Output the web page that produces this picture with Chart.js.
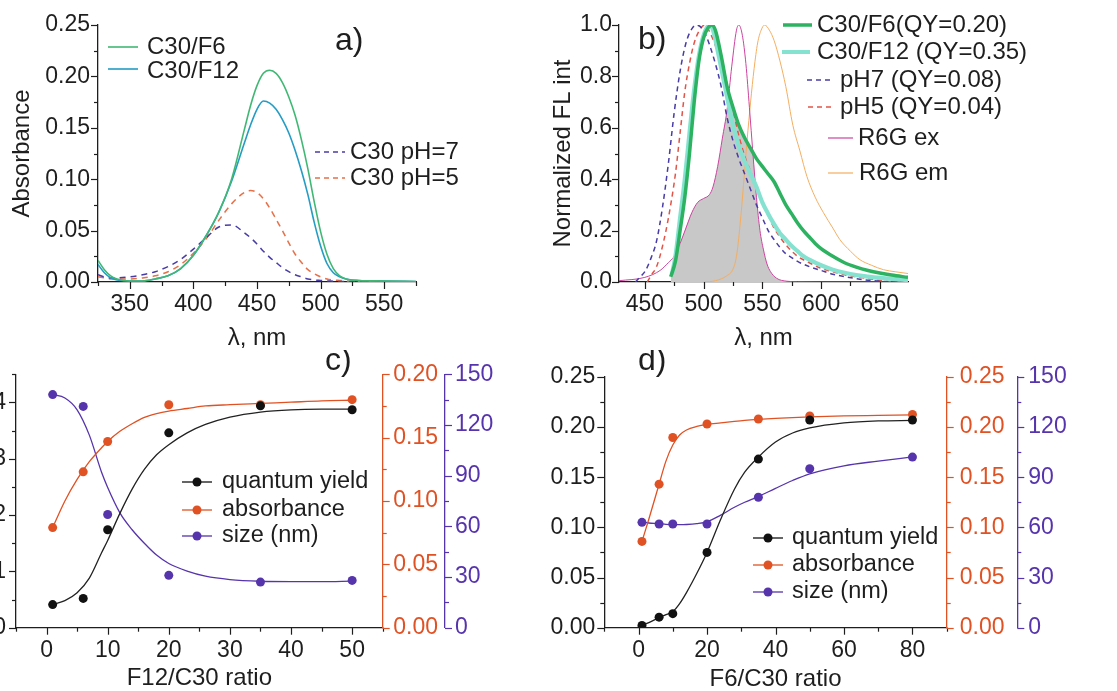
<!DOCTYPE html>
<html>
<head>
<meta charset="utf-8">
<script src="https://cdn.jsdelivr.net/npm/chart.js@4.4.1/dist/chart.umd.min.js"></script>
<style>
  html, body { margin: 0; padding: 0; background: #fff; }
  #wrap { position: relative; width: 1117px; height: 691px; overflow: hidden; }
  canvas { position: absolute; }
</style>
</head>
<body>
<div id="wrap">
  <canvas id="pa" width="540" height="350" style="left:0px;top:0px"></canvas>
  <canvas id="pb" width="577" height="350" style="left:540px;top:0px"></canvas>
  <canvas id="pc" width="540" height="341" style="left:0px;top:350px"></canvas>
  <canvas id="pd" width="577" height="341" style="left:540px;top:350px"></canvas>
</div>
<script>
// a) absorbance spectra
var waveA  = [325, 330, 335, 340, 350, 360, 370, 380, 390, 400, 410, 420, 430, 440, 445, 450, 455, 460, 465, 470, 475, 480, 485, 490, 495, 500, 505, 510, 515, 520, 530, 550, 575];
var absF6  = [0.021, 0.012, 0.006, 0.003, 0.001, 0.001, 0.003, 0.006, 0.013, 0.026, 0.045, 0.068, 0.100, 0.148, 0.172, 0.191, 0.203, 0.206, 0.203, 0.194, 0.180, 0.162, 0.138, 0.110, 0.078, 0.049, 0.027, 0.013, 0.006, 0.003, 0.0015, 0.001, 0.0005];
var absF12 = [0.017, 0.009, 0.004, 0.002, 0.001, 0.001, 0.003, 0.006, 0.013, 0.026, 0.045, 0.068, 0.098, 0.135, 0.153, 0.168, 0.176, 0.174, 0.168, 0.158, 0.145, 0.128, 0.108, 0.085, 0.058, 0.035, 0.018, 0.009, 0.005, 0.003, 0.0015, 0.001, 0.0005];
var absPH7 = [0.007, 0.005, 0.004, 0.004, 0.005, 0.007, 0.010, 0.015, 0.022, 0.032, 0.043, 0.0535, 0.0555, 0.048, 0.043, 0.037, 0.030, 0.024, 0.019, 0.014, 0.010, 0.007, 0.005, 0.003, 0.002, 0.0015, 0.001, 0.0008, 0.0005, 0.0004, 0.0002, 0, 0];
var absPH5 = [0.005, 0.004, 0.003, 0.003, 0.003, 0.004, 0.006, 0.010, 0.017, 0.028, 0.042, 0.060, 0.076, 0.087, 0.089, 0.087, 0.081, 0.072, 0.061, 0.050, 0.038, 0.027, 0.019, 0.012, 0.008, 0.005, 0.003, 0.002, 0.0015, 0.001, 0.0005, 0, 0];

// b) normalized fluorescence
var waveF6b = [472, 476, 480, 484, 488, 492, 496, 500, 504, 507, 510, 515, 520, 525, 530, 535, 540, 545, 550, 555, 560, 565, 570, 575, 580, 585, 590, 595, 600, 610, 620, 630, 640, 650, 660, 674];
var flF6    = [0.02, 0.08, 0.20, 0.33, 0.50, 0.70, 0.86, 0.95, 0.99, 1.0, 0.98, 0.88, 0.76, 0.68, 0.61, 0.56, 0.52, 0.48, 0.45, 0.42, 0.39, 0.345, 0.30, 0.265, 0.23, 0.20, 0.175, 0.15, 0.13, 0.10, 0.075, 0.058, 0.045, 0.035, 0.027, 0.018];
var waveF12b = [473, 476, 480, 484, 488, 492, 496, 500, 505, 508, 512, 516, 520, 525, 530, 535, 540, 545, 550, 555, 560, 565, 570, 575, 580, 585, 590, 600, 610, 620, 630, 640, 650, 660, 674];
var flF12    = [0.03, 0.10, 0.25, 0.40, 0.58, 0.75, 0.88, 0.96, 1.0, 0.98, 0.90, 0.81, 0.72, 0.61, 0.53, 0.47, 0.42, 0.37, 0.31, 0.265, 0.225, 0.19, 0.165, 0.14, 0.12, 0.10, 0.087, 0.065, 0.048, 0.036, 0.027, 0.021, 0.016, 0.012, 0.008];
var wavePH7b = [442, 446, 450, 455, 460, 465, 470, 475, 480, 485, 490, 494, 498, 502, 506, 510, 515, 520, 525, 530, 535, 540, 545, 550, 555, 560, 565, 570, 575, 580, 590, 600, 610, 620, 630, 640, 655, 674];
var flPH7    = [0.0, 0.02, 0.04, 0.09, 0.16, 0.29, 0.46, 0.66, 0.82, 0.93, 0.985, 1.0, 0.99, 0.96, 0.91, 0.85, 0.76, 0.64, 0.55, 0.48, 0.42, 0.36, 0.30, 0.25, 0.20, 0.165, 0.135, 0.11, 0.095, 0.08, 0.06, 0.045, 0.03, 0.021, 0.013, 0.007, 0.002, 0.0];
var wavePH5b = [452, 456, 460, 464, 468, 472, 476, 480, 484, 488, 492, 496, 501, 505, 510, 515, 520, 525, 530, 535, 540, 545, 550, 555, 560, 565, 570, 575, 580, 590, 600, 610, 620, 630, 645, 661, 674];
var flPH5    = [0.0, 0.03, 0.06, 0.12, 0.20, 0.30, 0.42, 0.58, 0.74, 0.85, 0.93, 0.975, 1.0, 0.975, 0.92, 0.85, 0.77, 0.67, 0.57, 0.49, 0.43, 0.37, 0.31, 0.26, 0.21, 0.175, 0.145, 0.12, 0.10, 0.075, 0.053, 0.04, 0.028, 0.02, 0.01, 0.0, 0.0];
var waveEx = [428, 450, 463, 470, 475, 480, 485, 490, 495, 500, 505, 508, 512, 516, 520, 524, 528, 530, 533, 536, 539, 542, 545, 548, 551, 554, 557, 562, 571, 580, 600, 674];
var r6gEx  = [0.005, 0.018, 0.045, 0.075, 0.10, 0.15, 0.21, 0.27, 0.31, 0.325, 0.34, 0.37, 0.45, 0.56, 0.67, 0.84, 0.98, 1.0, 0.96, 0.85, 0.68, 0.50, 0.33, 0.20, 0.125, 0.07, 0.04, 0.015, 0.003, 0.001, 0, 0];
var waveEm = [500, 510, 520, 525, 528, 531, 534, 537, 540, 543, 546, 549, 552, 556, 560, 565, 570, 576, 582, 588, 595, 602, 610, 616, 625, 633, 643, 653, 663, 674];
var r6gEm  = [0.0, 0.005, 0.025, 0.05, 0.10, 0.22, 0.38, 0.55, 0.70, 0.83, 0.93, 0.98, 1.0, 0.98, 0.94, 0.86, 0.76, 0.61, 0.51, 0.41, 0.33, 0.27, 0.21, 0.165, 0.12, 0.087, 0.065, 0.048, 0.04, 0.033];
var waveOverlap = [472, 476, 480, 484, 488, 492, 496, 500, 505, 508, 512, 516, 520, 522, 525, 530, 535, 540, 542, 545, 548, 551, 554, 557, 562, 571, 575];
var overlap     = [0.02, 0.08, 0.15, 0.20, 0.25, 0.29, 0.315, 0.325, 0.34, 0.37, 0.45, 0.56, 0.67, 0.72, 0.68, 0.61, 0.56, 0.52, 0.50, 0.33, 0.20, 0.125, 0.07, 0.04, 0.015, 0.003, 0];

// c) F12/C30 ratio
var ratioC = [1, 6, 10, 20, 35, 50];
var qyC    = [0.041, 0.052, 0.174, 0.346, 0.394, 0.387];
var absC   = [0.079, 0.123, 0.147, 0.176, 0.176, 0.180];
var sizeC  = [138, 131, 67, 31, 27, 28];
var fitRatioC = [1, 3, 5, 7, 9, 10, 12, 14, 16, 18, 20, 23, 26, 30, 35, 40, 45, 50];
var qyFitC    = [0.041, 0.048, 0.062, 0.088, 0.133, 0.155, 0.203, 0.246, 0.281, 0.307, 0.325, 0.346, 0.361, 0.374, 0.383, 0.387, 0.388, 0.388];
var absFitC   = [0.079, 0.100, 0.117, 0.131, 0.142, 0.147, 0.155, 0.161, 0.166, 0.169, 0.171, 0.173, 0.175, 0.176, 0.177, 0.178, 0.179, 0.1795];
var sizeFitC  = [138, 136, 129, 114, 92, 83, 68, 58, 50, 43, 38, 33.5, 30.5, 28.5, 27.5, 27.3, 27.3, 27.6];

// d) F6/C30 ratio
var ratioD = [1, 6, 10, 20, 35, 50, 80];
var qyD    = [0.0023, 0.0105, 0.014, 0.075, 0.168, 0.207, 0.207];
var absD   = [0.086, 0.143, 0.1895, 0.203, 0.208, 0.211, 0.2125];
var sizeD  = [63, 62, 62, 62, 78, 95, 102];
var fitRatioD = [1, 3, 6, 8, 10, 12, 14, 17, 20, 24, 28, 31, 35, 40, 45, 50, 60, 70, 80];
var qyFitD    = [0.002, 0.005, 0.010, 0.013, 0.016, 0.024, 0.035, 0.054, 0.075, 0.108, 0.138, 0.155, 0.170, 0.185, 0.194, 0.199, 0.204, 0.206, 0.2065];
var absFitD   = [0.086, 0.108, 0.143, 0.166, 0.182, 0.192, 0.197, 0.2005, 0.2025, 0.204, 0.2055, 0.2065, 0.2075, 0.2085, 0.2093, 0.21, 0.211, 0.2115, 0.212];
var sizeFitD  = [63.1, 62.6, 62.2, 61.8, 61.6, 61.6, 61.7, 62.2, 63.3, 67.3, 72, 75, 78.4, 83.3, 88, 92, 96.8, 99.6, 102.1];

var FONT = '"Liberation Sans", Arial, sans-serif';
var INK = '#1e1e1e';
var ORANGE = 'rgb(224,82,36)';
var VIOLET = 'rgb(86,52,172)';

function pts(xs, ys) {
  return xs.map(function (x, i) { return {x: x, y: ys[i]}; });
}

function isMajor(v, step) {
  var r = v / step;
  return Math.abs(r - Math.round(r)) < 1e-6;
}

function tickList(min, max, step) {
  var out = [];
  var first = Math.ceil(min / step - 1e-9);
  var last = Math.floor(max / step + 1e-9);
  for (var k = first; k <= last; k++) out.push({value: Math.round(k * step * 1e6) / 1e6});
  return out;
}

function axis(o) {
  var col = o.color || INK;
  return {
    type: 'linear', position: o.pos, min: o.min, max: o.max, weight: o.weight || 0,
    grid: {display: false, drawTicks: false},
    border: {display: true, color: col, width: 1.3},
    ticks: {
      color: col, font: {family: FONT, size: 23}, padding: o.pad,
      autoSkip: false, maxRotation: 0, minRotation: 0,
      callback: function (v) { return isMajor(v, o.major) ? o.fmt(v) : ''; }
    },
    title: o.title ? {display: true, text: o.title, color: INK,
      font: {family: FONT, size: 24, lineHeight: 1}, padding: o.titlePad} : {display: false},
    afterBuildTicks: function (s) { s.ticks = tickList(o.min, o.max, o.minor); },
    afterFit: function (s) {
      if (s.isHorizontal()) s.height = o.size; else s.width = o.size;
    }
  };
}

function tickMarks(major) {
  return {
    id: 'tickMarks',
    afterDraw: function (chart) {
      var ctx = chart.ctx;
      ctx.save();
      Object.keys(major).forEach(function (id) {
        var s = chart.scales[id];
        ctx.strokeStyle = s.options.border.color;
        ctx.lineWidth = 1.2;
        s.ticks.forEach(function (t) {
          var len = isMajor(t.value, major[id]) ? 7 : 4;
          var p = Math.round(s.getPixelForValue(t.value)) + 0.5;
          ctx.beginPath();
          if (s.isHorizontal()) { ctx.moveTo(p, s.top); ctx.lineTo(p, s.top + len); }
          else if (s.position === 'left') { ctx.moveTo(s.right, p); ctx.lineTo(s.right - len, p); }
          else { ctx.moveTo(s.left, p); ctx.lineTo(s.left + len, p); }
          ctx.stroke();
        });
      });
      ctx.restore();
    }
  };
}

// legend entries and panel letters
function panelText(items) {
  return {
    id: 'panelText',
    afterDraw: function (chart) {
      var ctx = chart.ctx;
      ctx.save();
      items.forEach(function (it) {
        if (it.line) {
          var L = it.line, ly = L.y != null ? L.y : it.y;
          ctx.beginPath();
          ctx.setLineDash(L.dash || []);
          ctx.strokeStyle = L.color;
          ctx.lineWidth = L.width;
          ctx.moveTo(L.x1, ly); ctx.lineTo(L.x2, ly);
          ctx.stroke();
          ctx.setLineDash([]);
          if (L.dot) {
            ctx.beginPath();
            ctx.fillStyle = L.color;
            ctx.arc((L.x1 + L.x2) / 2, ly, 4.5, 0, 2 * Math.PI);
            ctx.fill();
          }
        }
        ctx.fillStyle = INK;
        ctx.font = (it.size || 24) + 'px ' + FONT;
        ctx.textBaseline = 'middle';
        ctx.textAlign = 'left';
        ctx.fillText(it.text, it.tx, it.y);
      });
      ctx.restore();
    }
  };
}

function curve(xs, ys, color, width, dash, yId) {
  return {data: pts(xs, ys), showLine: true, borderColor: color, borderWidth: width,
    borderDash: dash || [], pointRadius: 0, cubicInterpolationMode: 'monotone',
    fill: false, yAxisID: yId || 'y'};
}

function dots(xs, ys, color, yId) {
  return {data: pts(xs, ys), showLine: false, pointRadius: 4.5, pointBorderWidth: 0,
    pointBackgroundColor: color, pointBorderColor: color, yAxisID: yId};
}

function options(pad, scales) {
  return {
    responsive: false, animation: false, devicePixelRatio: 1,
    layout: {padding: pad, autoPadding: false},
    plugins: {legend: {display: false}, tooltip: {enabled: false}},
    scales: scales
  };
}

var cF6a = 'rgb(64,184,116)', cF12a = 'rgb(36,156,196)';
var cPH7 = 'rgb(72,60,165)', cPH5a = 'rgb(232,112,72)', cPH5b = 'rgb(226,84,72)';
var cF6b = 'rgb(44,178,96)', cF12b = 'rgb(134,226,208)';
var cEx = 'rgb(204,68,160)', cEm = 'rgb(244,174,96)';

// ---- panel a
new Chart(document.getElementById('pa'), {
  type: 'scatter',
  data: {datasets: [
    curve(waveA, absF6, cF6a, 1.6),
    curve(waveA, absF12, cF12a, 1.6),
    curve(waveA, absPH7, cPH7, 1.5, [6, 5]),
    curve(waveA, absPH5, cPH5a, 1.5, [6, 5])
  ]},
  options: options({top: 25, right: 124, left: 0, bottom: 0}, {
    x: axis({pos: 'bottom', min: 325, max: 575, minor: 25, major: 50, pad: 9, size: 68,
      fmt: String, title: 'λ, nm', titlePad: {top: 0, bottom: 0}}),
    y: axis({pos: 'left', min: 0, max: 0.25, minor: 0.025, major: 0.05, pad: 8, size: 98,
      fmt: function (v) { return v.toFixed(2); }, title: 'Absorbance', titlePad: {top: 10, bottom: 0}})
  }),
  plugins: [tickMarks({x: 50, y: 0.05}), panelText([
    {text: 'a)', tx: 335, y: 41, size: 32},
    {text: 'C30/F6', tx: 147, y: 47, line: {x1: 108, x2: 138, color: cF6a, width: 1.6}},
    {text: 'C30/F12', tx: 147, y: 71, line: {x1: 108, x2: 138, y: 69, color: cF12a, width: 1.6}},
    {text: 'C30 pH=7', tx: 350, y: 152, line: {x1: 315, x2: 345, color: cPH7, width: 1.5, dash: [5, 4]}},
    {text: 'C30 pH=5', tx: 350, y: 178, line: {x1: 315, x2: 345, color: cPH5a, width: 1.5, dash: [5, 4]}}
  ])]
});

// ---- panel b
var gray = curve(waveOverlap, overlap, 'rgba(0,0,0,0)', 0);
gray.fill = 'origin';
gray.backgroundColor = 'rgb(200,200,200)';
gray.order = 10;

new Chart(document.getElementById('pb'), {
  type: 'scatter',
  data: {datasets: [
    curve(waveF6b, flF6, cF6b, 3.5),
    curve(waveF12b, flF12, cF12b, 4.2),
    curve(wavePH7b, flPH7, cPH7, 1.5, [5, 4]),
    curve(wavePH5b, flPH5, cPH5b, 1.5, [5, 4]),
    curve(waveEx, r6gEx, cEx, 1),
    curve(waveEm, r6gEm, cEm, 1),
    gray
  ]},
  options: options({top: 25, right: 209, left: 0, bottom: 0}, {
    x: axis({pos: 'bottom', min: 428, max: 674, minor: 25, major: 50, pad: 9, size: 68,
      fmt: String, title: 'λ, nm', titlePad: {top: 0, bottom: 0}}),
    y: axis({pos: 'left', min: 0, max: 1.0, minor: 0.1, major: 0.2, pad: 7, size: 79,
      fmt: function (v) { return v.toFixed(1); }, title: 'Normalized FL int', titlePad: {top: 11, bottom: 0}})
  }),
  plugins: [tickMarks({x: 50, y: 0.2}), panelText([
    {text: 'b)', tx: 98, y: 40, size: 32},
    {text: 'C30/F6(QY=0.20)', tx: 277, y: 25, line: {x1: 243, x2: 272, color: cF6b, width: 3.5}},
    {text: 'C30/F12 (QY=0.35)', tx: 277, y: 52, line: {x1: 242, x2: 270, color: cF12b, width: 4}},
    {text: 'pH7 (QY=0.08)', tx: 300, y: 80, line: {x1: 267, x2: 293, color: cPH7, width: 1.5, dash: [5, 4]}},
    {text: 'pH5 (QY=0.04)', tx: 300, y: 107, line: {x1: 268, x2: 294, color: cPH5b, width: 1.5, dash: [5, 4]}},
    {text: 'R6G ex', tx: 318, y: 138, line: {x1: 288, x2: 313, color: cEx, width: 1.2}},
    {text: 'R6G em', tx: 319, y: 173, line: {x1: 288, x2: 313, color: cEm, width: 1.2}}
  ])]
});

// ---- panel c
new Chart(document.getElementById('pc'), {
  type: 'scatter',
  data: {datasets: [
    dots(ratioC, qyC, '#111', 'y'),
    dots(ratioC, absC, ORANGE, 'y1'),
    dots(ratioC, sizeC, VIOLET, 'y2'),
    curve(fitRatioC, qyFitC, '#222', 1.3, null, 'y'),
    curve(fitRatioC, absFitC, ORANGE, 1.3, null, 'y1'),
    curve(fitRatioC, sizeFitC, VIOLET, 1.3, null, 'y2')
  ]},
  options: options({top: 23.3, right: 0, left: 0, bottom: 0}, {
    x: axis({pos: 'bottom', min: -5, max: 55, minor: 5, major: 10, pad: 9, size: 63.3,
      fmt: String, title: 'F12/C30 ratio', titlePad: {top: 0, bottom: 1}}),
    y: axis({pos: 'left', min: 0, max: 0.45, minor: 0.05, major: 0.1, pad: 10, size: 16,
      fmt: function (v) { return v.toFixed(1); }}),
    y1: axis({pos: 'right', min: 0, max: 0.2, minor: 0.025, major: 0.05, pad: 10.5, size: 62.3,
      color: ORANGE, weight: 0, fmt: function (v) { return v.toFixed(2); }}),
    y2: axis({pos: 'right', min: 0, max: 150, minor: 15, major: 30, pad: 10, size: 95,
      color: VIOLET, weight: 1, fmt: String})
  }),
  plugins: [tickMarks({x: 10, y: 0.1, y1: 0.05, y2: 30}), panelText([
    {text: 'c)', tx: 325, y: 11, size: 32},
    {text: 'quantum yield', tx: 222, y: 132, size: 23.5, line: {x1: 182, x2: 212, color: '#111', width: 1.3, dot: true}},
    {text: 'absorbance', tx: 222, y: 160, size: 23.5, line: {x1: 182, x2: 212, color: ORANGE, width: 1.3, dot: true}},
    {text: 'size (nm)', tx: 222, y: 186, size: 23.5, line: {x1: 182, x2: 212, color: VIOLET, width: 1.3, dot: true}}
  ])]
});

// ---- panel d
new Chart(document.getElementById('pd'), {
  type: 'scatter',
  data: {datasets: [
    dots(ratioD, qyD, '#111', 'y'),
    dots(ratioD, absD, ORANGE, 'y1'),
    dots(ratioD, sizeD, VIOLET, 'y2'),
    curve(fitRatioD, qyFitD, '#222', 1.3, null, 'y'),
    curve(fitRatioD, absFitD, ORANGE, 1.3, null, 'y1'),
    curve(fitRatioD, sizeFitD, VIOLET, 1.3, null, 'y2')
  ]},
  options: options({top: 24, right: 0, left: 0, bottom: 0}, {
    x: axis({pos: 'bottom', min: -10, max: 90, minor: 10, major: 20, pad: 9, size: 63.3,
      fmt: String, title: 'F6/C30 ratio', titlePad: {top: 0, bottom: 0}}),
    y: axis({pos: 'left', min: 0, max: 0.25, minor: 0.025, major: 0.05, pad: 9, size: 64.3,
      fmt: function (v) { return v.toFixed(2); }}),
    y1: axis({pos: 'right', min: 0, max: 0.25, minor: 0.025, major: 0.05, pad: 13, size: 70.6,
      color: ORANGE, weight: 0, fmt: function (v) { return v.toFixed(2); }}),
    y2: axis({pos: 'right', min: 0, max: 150, minor: 15, major: 30, pad: 11, size: 99.7,
      color: VIOLET, weight: 1, fmt: String})
  }),
  plugins: [tickMarks({x: 20, y: 0.05, y1: 0.05, y2: 30}), panelText([
    {text: 'd)', tx: 98, y: 11, size: 32},
    {text: 'quantum yield', tx: 252, y: 188, size: 23.5, line: {x1: 213, x2: 243, color: '#111', width: 1.3, dot: true}},
    {text: 'absorbance', tx: 252, y: 215, size: 23.5, line: {x1: 213, x2: 243, color: ORANGE, width: 1.3, dot: true}},
    {text: 'size (nm)', tx: 252, y: 242, size: 23.5, line: {x1: 213, x2: 243, color: VIOLET, width: 1.3, dot: true}}
  ])]
});
</script>
</body>
</html>
